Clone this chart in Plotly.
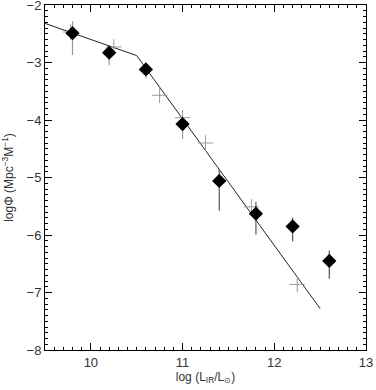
import plotly.graph_objects as go

# Diamond data points (log L_IR, log Phi) with asymmetric errors
diamond_x = [9.8, 10.2, 10.6, 11.0, 11.4, 11.8, 12.2, 12.6]
diamond_y = [-2.49, -2.83, -3.12, -4.07, -5.06, -5.63, -5.85, -6.45]
err_plus = [0.21, 0.11, 0.10, 0.13, 0.21, 0.21, 0.15, 0.18]
err_minus = [0.38, 0.22, 0.16, 0.26, 0.52, 0.36, 0.26, 0.31]

# Gray cross data points
cross_x = [9.78, 10.25, 10.75, 11.0, 11.25, 11.75, 12.25]
cross_y = [-2.47, -2.73, -3.57, -3.96, -4.40, -5.51, -6.86]

# Broken power-law fit
fit_x = [9.5, 10.5, 12.5]
fit_y = [-2.32, -2.88, -7.28]

x_ticks = [10, 11, 12, 13]
y_ticks = [-2, -3, -4, -5, -6, -7, -8]

n_gray = 4
font = "Liberation Sans, Arial, sans-serif"

fig = go.Figure()

fig.add_trace(go.Scatter(
    x=fit_x, y=fit_y, mode="lines",
    line=dict(color="#222222", width=1), showlegend=False, hoverinfo="skip"))

fig.add_trace(go.Scatter(
    x=cross_x, y=cross_y, mode="markers",
    marker=dict(symbol="cross-thin", size=11,
                line=dict(color="#9a9a9a", width=1)),
    showlegend=False))

fig.add_trace(go.Scatter(
    x=diamond_x[:n_gray], y=diamond_y[:n_gray], mode="markers",
    marker=dict(symbol="diamond", size=11, color="black"),
    error_y=dict(type="data", symmetric=False,
                 array=err_plus[:n_gray], arrayminus=err_minus[:n_gray],
                 color="#9a9a9a", thickness=1.2, width=0),
    showlegend=False))

fig.add_trace(go.Scatter(
    x=diamond_x[n_gray:], y=diamond_y[n_gray:], mode="markers",
    marker=dict(symbol="diamond", size=11, color="black"),
    error_y=dict(type="data", symmetric=False,
                 array=err_plus[n_gray:], arrayminus=err_minus[n_gray:],
                 color="#555555", thickness=1.2, width=0),
    showlegend=False))

axis_common = dict(
    showline=True, linecolor="black", linewidth=1, mirror="ticks",
    ticks="inside", ticklen=7, tickcolor="black", tickwidth=1,
    showgrid=False, zeroline=False, ticklabeloverflow="allow",
    automargin=False,
    tickfont=dict(family=font, size=13, color="#333333"),
    minor=dict(ticks="inside", ticklen=3, tickcolor="black", dtick=0.1,
               showgrid=False),
)

fig.update_xaxes(range=[9.5, 13], tickvals=x_ticks,
                 title=dict(text="log (L<sub>IR</sub>/L<sub>⊙</sub>)",
                            font=dict(family=font, size=12, color="#333333"),
                            standoff=0),
                 **axis_common)
fig.update_yaxes(range=[-8, -2], tickvals=y_ticks,
                 title=dict(text="logΦ (Mpc<sup>−3</sup>M<sup>−1</sup>)",
                            font=dict(family=font, size=12, color="#333333"),
                            standoff=10),
                 **axis_common)

fig.update_layout(
    width=376, height=390,
    margin=dict(l=45, r=10, t=5, b=40),
    plot_bgcolor="white", paper_bgcolor="white",
    showlegend=False,
)

fig.write_html(
    "out.html",
    config={"displayModeBar": False},
    post_script="document.body.style.margin='0';document.body.style.overflow='hidden';",
)
